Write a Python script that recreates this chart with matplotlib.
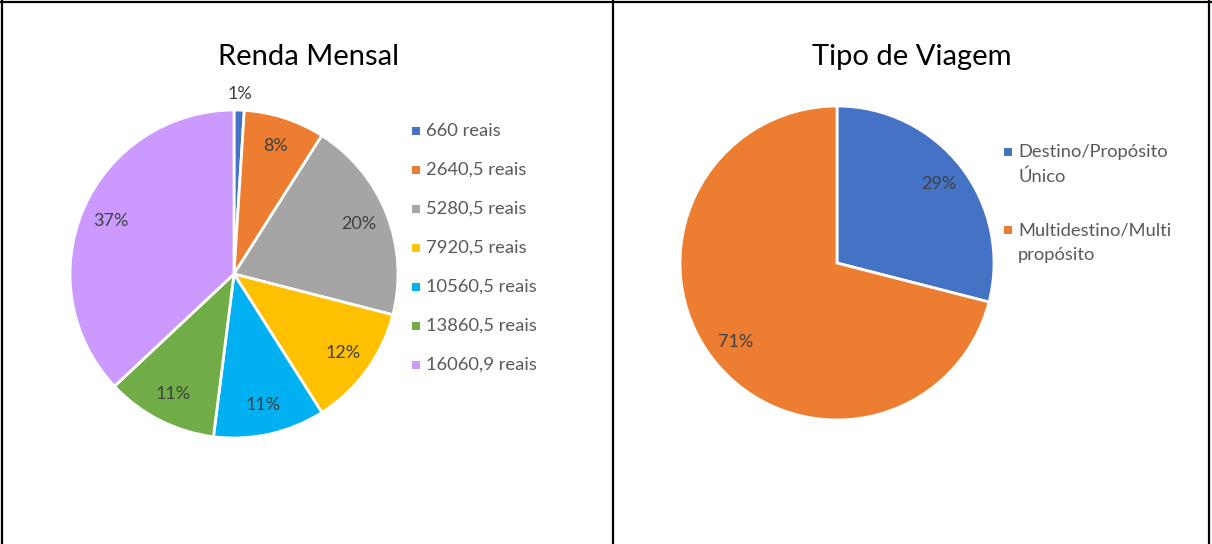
import numpy as np
import matplotlib
matplotlib.use("Agg")
import matplotlib.pyplot as plt
from matplotlib.patches import Rectangle
from matplotlib.lines import Line2D

plt.rcParams['font.family'] = ['Lato', 'DejaVu Sans']

# --- data ---
renda_labels = ["660 reais", "2640,5 reais", "5280,5 reais", "7920,5 reais",
                "10560,5 reais", "13860,5 reais", "16060,9 reais"]
renda_values = [1, 8, 20, 12, 11, 11, 37]
renda_colors = ["#4472C4", "#ED7D31", "#A5A5A5", "#FFC000",
                "#00B0F0", "#70AD47", "#CC99FF"]

viagem_labels = ["Destino/Propósito\nÚnico", "Multidestino/Multi\npropósito"]
viagem_values = [29, 71]
viagem_colors = ["#4472C4", "#ED7D31"]

W, H = 1212, 544
fig = plt.figure(figsize=(W / 100, H / 100), dpi=100)
fig.patch.set_facecolor("white")

LABEL_FS = 13
LEGEND_FS = 13.2
TITLE_FS = 21


def px_axes(cx, cy, r):
    return fig.add_axes([(cx - r) / W, (H - cy - r) / H, 2 * r / W, 2 * r / H])


def draw_pie(ax, values, colors, outside_first=False):
    wedges, _ = ax.pie(values, colors=colors, startangle=90, counterclock=False,
                       radius=1.0,
                       wedgeprops=dict(edgecolor="white", linewidth=2))
    ax.set_xlim(-1, 1)
    ax.set_ylim(-1, 1)
    ax.set_axis_off()
    total = sum(values)
    for i, (w, v) in enumerate(zip(wedges, values)):
        ang = np.deg2rad((w.theta1 + w.theta2) / 2)
        r = 0.82
        if outside_first and i == 0:
            r = 1.1
        ax.text(r * np.cos(ang), r * np.sin(ang), f"{round(100 * v / total)}%",
                ha="center", va="center", fontsize=LABEL_FS, color="#404040",
                clip_on=False)
    return wedges


def draw_legend(x, y0, labels, colors, step, line_h=25):
    y = y0
    for lab, col in zip(labels, colors):
        fig.patches.append(Rectangle(((x - 4) / W, 1 - (y + 4) / H), 8 / W, 8 / H,
                                     transform=fig.transFigure, facecolor=col,
                                     edgecolor="none"))
        lines = lab.split("\n")
        for k, ln in enumerate(lines):
            fig.text((x + 10) / W, 1 - (y + k * line_h) / H, ln, ha="left",
                     va="center", fontsize=LEGEND_FS, color="#595959")
        y += step + (len(lines) - 1) * line_h


# left panel
ax1 = px_axes(234, 274, 164)
draw_pie(ax1, renda_values, renda_colors, outside_first=True)
fig.text(308 / W, 1 - 57 / H, "Renda Mensal", ha="center", va="center",
         fontsize=TITLE_FS, color="black")
draw_legend(416, 131, renda_labels, renda_colors, 39)

# right panel
ax2 = px_axes(837, 263, 157)
draw_pie(ax2, viagem_values, viagem_colors)
fig.text(912 / W, 1 - 57 / H, "Tipo de Viagem", ha="center", va="center",
         fontsize=TITLE_FS, color="black")
draw_legend(1008, 152, viagem_labels, viagem_colors, 53)

# table cell borders
for xs, ys in [((2, 2), (1, H)), ((613, 613), (1, H)), ((1209, 1209), (1, H)),
               ((1, W - 1), (2, 2))]:
    fig.add_artist(Line2D([xs[0] / W, xs[1] / W], [1 - ys[0] / H, 1 - ys[1] / H],
                          transform=fig.transFigure, color="black", linewidth=1.6))

fig.savefig("out.png", dpi=100, facecolor="white")
